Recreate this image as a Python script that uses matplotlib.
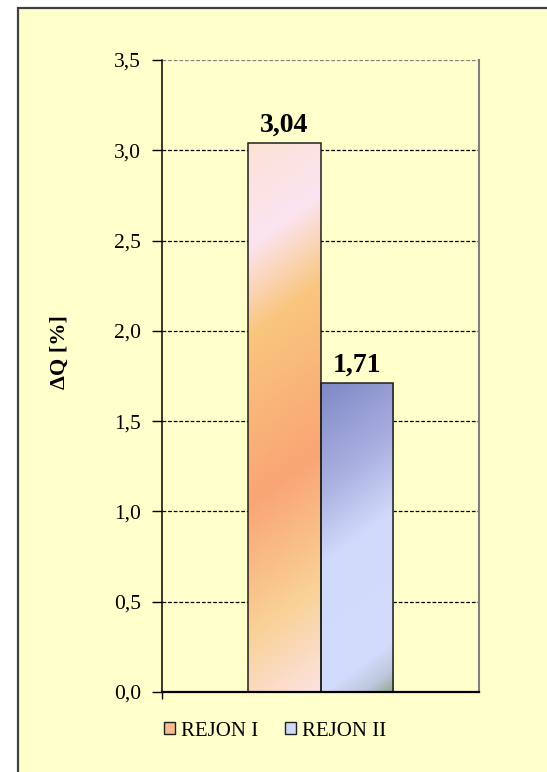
import numpy as np
import matplotlib
matplotlib.use("Agg")
import matplotlib.pyplot as plt
from matplotlib.colors import LinearSegmentedColormap
from matplotlib.patches import Rectangle

plt.rcParams['font.family'] = ['Liberation Serif', 'DejaVu Serif']

# data
series = ['REJON I', 'REJON II']
values = [3.04, 1.71]
yticks = [0.0, 0.5, 1.0, 1.5, 2.0, 2.5, 3.0, 3.5]

# gradient stops for each bar (Excel-like fills)
grad1 = [(0.0, '#FAE3D4'), (0.17, '#FCE4F2'), (0.32, '#F9C67E'),
         (0.60, '#F9A575'), (0.82, '#F9D196'), (1.0, '#FCE3E2')]
grad2 = [(0.0, '#8088C6'), (0.30, '#AAB2E2'), (0.50, '#D0DAFA'),
         (0.86, '#D2DCFC'), (0.94, '#BCC8DC'), (1.0, '#94A894')]
legend_cols = ['#F9BC8C', '#D0D9F8']

bg = '#FFFFCC'
W, H, dpi = 547, 772, 100
fig = plt.figure(figsize=(W / dpi, H / dpi), dpi=dpi, facecolor='white')

# chart area frame (cut at the right and bottom like the original)
fig.patches.append(Rectangle((18 / W, -0.05), 1.1, 1.05 - 8 / H,
                             transform=fig.transFigure, facecolor=bg,
                             edgecolor='#404040', lw=1.6, zorder=-10))

ax = fig.add_axes([162 / W, 80 / H, 317 / W, 632 / H])
ax.set_facecolor(bg)
ax.set_xlim(-1, 1)
ax.set_ylim(0, 3.5)

bw = 0.46
xs = [-bw / 2, bw / 2]
bars = ax.bar(xs, values, width=bw, facecolor='none', edgecolor='#202020',
              lw=1.1, zorder=3)

# diagonal gradient clipped into each bar
sx = 317 / 2.0      # px per x unit
sy = 632 / 3.5      # px per y unit
slope = 0.73
for b, stops in zip(bars, [grad1, grad2]):
    x0, y0 = b.get_x(), b.get_y()
    w, h = b.get_width(), b.get_height()
    nx, ny = 80, 400
    px = np.linspace(0, w * sx, nx)
    py = np.linspace(0, h * sy, ny)          # from top, downward
    PX, PY = np.meshgrid(px, py)
    s = PY + slope * PX
    s = (s - s.min()) / (s.max() - s.min())
    cmap = LinearSegmentedColormap.from_list('g', stops)
    im = ax.imshow(s, cmap=cmap, extent=[x0, x0 + w, y0, y0 + h],
                   origin='upper', aspect='auto', interpolation='bilinear',
                   zorder=2)
    im.set_clip_path(b)

ax.set_xlim(-1, 1)
ax.set_ylim(0, 3.5)

for b, v in zip(bars, values):
    ax.annotate(f"{v:.2f}".replace('.', ','),
                (b.get_x() + b.get_width() / 2, v),
                xytext=(0, 8), textcoords='offset points',
                ha='center', va='baseline', fontsize=20, fontweight='bold')

ax.set_yticks(yticks)
ax.set_yticklabels([f"{t:.1f}".replace('.', ',') for t in yticks])
ax.tick_params(axis='y', direction='out', length=7, width=1, pad=8,
               labelsize=15.5, color='black')
ax.set_xticks([-1])
ax.set_xticklabels([])
ax.tick_params(axis='x', direction='out', length=5, width=1)

for t in yticks[1:]:
    ax.axhline(t, color='#808080' if t == 3.5 else 'black', lw=0.9,
               ls=(0, (3, 1.5)), zorder=1)

ax.spines['top'].set_visible(False)
ax.spines['right'].set_color('#808080')
ax.spines['right'].set_linewidth(1.5)
ax.spines['left'].set_linewidth(1.1)
ax.spines['bottom'].set_linewidth(1.6)
ax.spines['bottom'].set_zorder(4)

ax.set_ylabel('ΔQ [%]', fontsize=16, fontweight='bold')
ax.yaxis.set_label_coords(-0.29, 0.538)

handles = [Rectangle((0, 0), 1, 1, facecolor=c, edgecolor='#202020', lw=1)
           for c in legend_cols]
fig.legend(handles, series, loc='center left',
           bbox_to_anchor=(156 / W, 1 - 731 / H), ncol=2, frameon=False,
           fontsize=15, handlelength=0.5, handleheight=0.5,
           handletextpad=0.3, columnspacing=1.3, borderaxespad=0)

fig.savefig('out.png', dpi=dpi, facecolor=fig.get_facecolor())
